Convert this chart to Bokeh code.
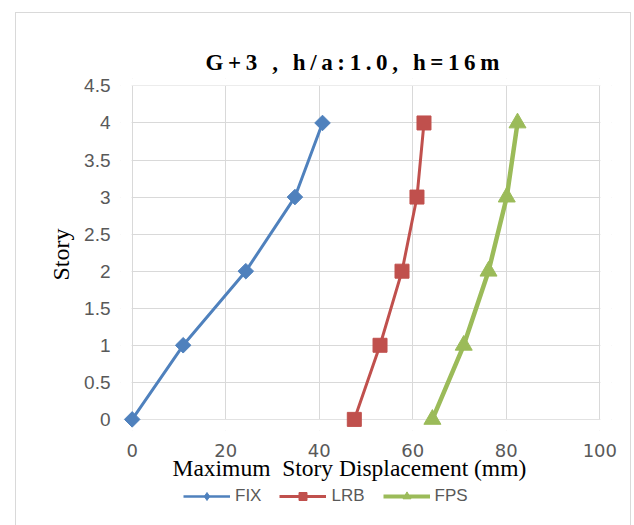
from bokeh.plotting import figure
from bokeh.layouts import column
from bokeh.models import Range1d, FixedTicker, BoxAnnotation, Legend, LegendItem, Title
from bokeh.embed import file_html
from bokeh.resources import INLINE

# ---- data ----
story = [0, 1, 2, 3, 4]
fix = [0.0, 10.9, 24.3, 34.8, 40.7]
lrb = [47.5, 53.0, 57.7, 60.9, 62.4]
fps = [64.2, 70.9, 76.2, 80.1, 82.4]
series_names = ["FIX", "LRB", "FPS"]
x_ticks = [0, 20, 40, 60, 80, 100]
y_ticks = [0, 0.5, 1, 1.5, 2, 2.5, 3, 3.5, 4, 4.5]
y_tick_labels = ["0", "0.5", "1", "1.5", "2", "2.5", "3", "3.5", "4", "4.5"]
title_text = "G+3 , h/a:1.0, h=16m"
x_title = "Maximum  Story Displacement (mm)"
y_title = "Story"

SP = "\u2009"
spaced_title = SP.join(list(title_text))

p = figure(width=614, height=472,
           x_range=Range1d(-2.5, 102.5), y_range=Range1d(-0.15, 4.6),
           output_backend="svg", toolbar_location=None,
           min_border_left=104, min_border_right=19,
           min_border_top=65, min_border_bottom=55)
p.outline_line_color = None
p.background_fill_color = "white"
p.border_fill_color = "white"

# title
p.title.text = spaced_title
p.title.text_font = "Liberation Serif"
p.title.text_font_size = "23px"
p.title.text_font_style = "bold"
p.title.text_color = "black"
p.title.align = "left"
p.title.offset = 85
p.title.standoff = 8

# axes
p.xaxis.ticker = FixedTicker(ticks=x_ticks)
p.yaxis.ticker = FixedTicker(ticks=y_ticks)
p.yaxis.major_label_overrides = {t: l for t, l in zip(y_ticks, y_tick_labels)}
for ax in (p.xaxis, p.yaxis):
    ax.axis_line_color = None
    ax.major_tick_line_color = None
    ax.minor_tick_line_color = None
    ax.major_label_text_color = "#595959"
p.xaxis.major_label_text_font = "DejaVu Sans"
p.xaxis.major_label_text_font_size = "18px"
p.xaxis.major_label_standoff = 7
p.yaxis.major_label_text_font = "Liberation Sans"
p.yaxis.major_label_text_font_size = "19px"
p.yaxis.major_label_standoff = 4
p.yaxis.axis_label = y_title
p.yaxis.axis_label_text_font = "Liberation Serif"
p.yaxis.axis_label_text_font_size = "24px"
p.yaxis.axis_label_text_font_style = "normal"
p.yaxis.axis_label_text_color = "black"
p.yaxis.axis_label_standoff = 7

xt = Title(text=x_title.replace("  ", "\u00a0 "), align="left", offset=52,
           text_font="Liberation Serif", text_font_size="23.5px",
           text_font_style="normal", text_color="black", standoff=-13)
p.add_layout(xt, "below")

# grid
p.grid.grid_line_color = "#d9d9d9"
p.grid.grid_line_width = 1

# masks so grid stays inside the data area
for kw in (dict(right=-0.12), dict(left=100.12), dict(top=-0.004), dict(bottom=4.504)):
    b = BoxAnnotation(fill_color="white", fill_alpha=1, line_alpha=0, level="underlay", **kw)
    p.add_layout(b)

# legend strip (separate small figure so the legend is not clipped);
# its ranges are far from the data so only the legend shows
lg = figure(width=614, height=40, output_backend="svg", toolbar_location=None,
            x_range=Range1d(-1000, -999), y_range=Range1d(-1000, -999),
            min_border=0, min_border_left=0, min_border_right=0,
            min_border_top=0, min_border_bottom=0)
lg.axis.visible = False
lg.grid.visible = False
lg.outline_line_color = None

colors = ["#4F81BD", "#C0504D", "#9BBB59"]
widths = [3, 3, 4.5]
leg_widths = [2.5, 3, 4]
markers = [dict(marker="square", size=11, angle=0.7853981634),
           dict(marker="square", size=14),
           dict(marker="triangle", size=17)]
leg_markers = [dict(marker="diamond", size=11),
               dict(marker="square", size=10),
               dict(marker="triangle", size=9)]
items = []
for name, xs, c, w, lw, mk, lmk in zip(series_names, [fix, lrb, fps], colors, widths,
                                       leg_widths, markers, leg_markers):
    p.line(xs, story, line_color=c, line_width=w)
    p.scatter(xs, story, fill_color=c, line_color=c, **mk)
    l_ln = lg.line(xs, story, line_color=c, line_width=lw)
    l_sc = lg.scatter(xs, story, fill_color=c, line_color=c, **lmk)
    items.append(LegendItem(label=name, renderers=[l_ln, l_sc]))

legend = Legend(items=items, orientation="horizontal", location=(63, 19),
                glyph_width=47, glyph_height=20, label_standoff=5, spacing=18,
                padding=0, margin=0, border_line_color=None, background_fill_alpha=0,
                label_text_font="Liberation Sans", label_text_font_size="17px",
                label_text_color="#595959")
lg.add_layout(legend)

layout = column(p, lg, spacing=0)
layout.margin = (12, 3, 0, 15)
layout.styles = {"border": "1px solid #d9d9d9"}

open("out.html", "w").write(file_html(layout, INLINE))
